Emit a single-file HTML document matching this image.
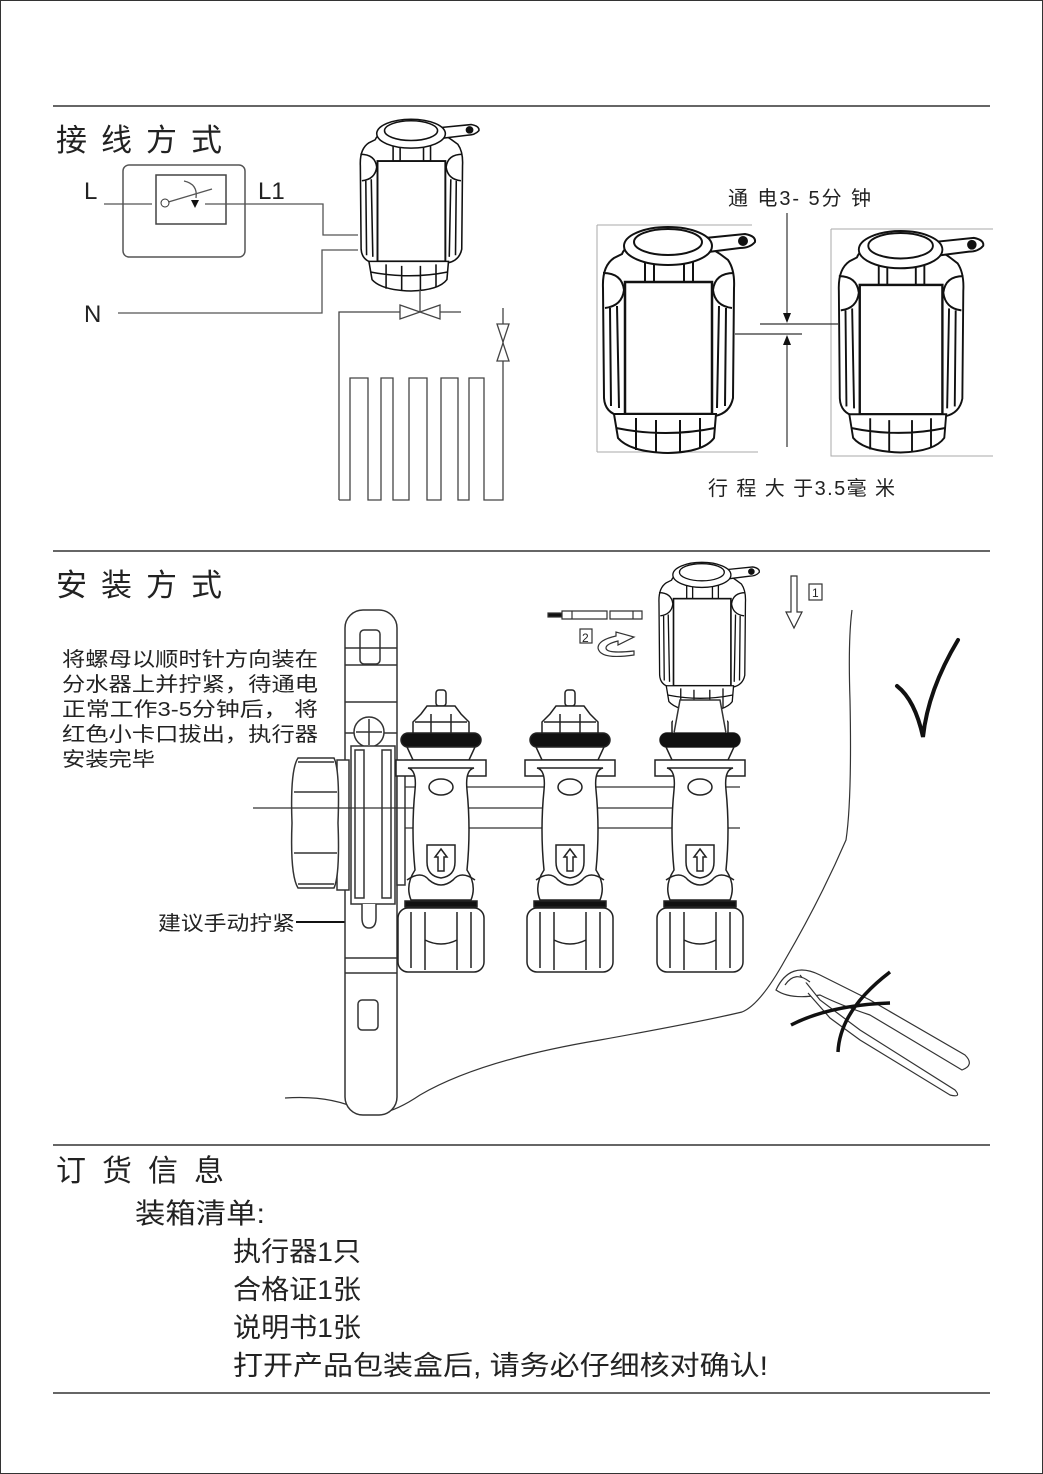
<!DOCTYPE html>
<html><head><meta charset="utf-8"><style>
html,body{margin:0;padding:0;background:#fff}
svg{display:block}
text{font-family:"Liberation Sans","Noto Sans CJK SC",sans-serif;fill:#222}
</style></head><body>
<svg width="1043" height="1474" viewBox="0 0 1043 1474" xmlns="http://www.w3.org/2000/svg">
<defs>
<g id="act" stroke="#111" fill="#fff" stroke-width="2">
  <path d="M3,60 Q2,38 14,30 L22,26 Q25,18 35,18 L100,18 Q112,20 120,26 L128,32 Q135,42 134,60 L133,170 Q130,185 115,188 L20,188 Q5,185 4,170 Z"/>
  <path d="M3,45 Q22,45 24,62 Q22,78 5,80" fill="none"/>
  <path d="M134,45 Q115,45 113,62 Q115,78 132,80" fill="none"/>
  <path d="M10,80 L11,178 M17,78 L19,180 M126,80 L125,178 M119,78 L117,180" fill="none"/>
  <rect x="45" y="28" width="9" height="26"/><rect x="84" y="28" width="9" height="26"/>
  <path d="M105,10 L145,6 Q156,8 155,14 Q150,20 140,20 L108,24 Z"/>
  <circle cx="143" cy="13" r="4" fill="#111"/>
  <ellipse cx="68" cy="18" rx="44" ry="19"/>
  <ellipse cx="68" cy="14" rx="34" ry="13"/>
  <rect x="25" y="54" width="87" height="132" stroke-width="2.5"/>
  <path d="M14,186 L116,186 L114,210 Q104,224 68,225 Q30,224 18,210 Z"/>
  <path d="M36,190 L36,222 M56,192 L56,225 M80,192 L80,225 M100,190 L100,220 M16,200 Q66,210 115,200" fill="none"/>
</g>
<g id="valve" stroke="#222" fill="#fff" stroke-width="1.5">
  <rect x="-5" y="690" width="10" height="16" rx="3"/>
  <path d="M-14,706 L14,706 L20,714 L28,722 L28,736 L-28,736 L-28,722 L-20,714 Z"/>
  <path d="M-10,714 L-10,736 M10,714 L10,736 M-26,722 L26,722" fill="none"/>
  <rect x="-40" y="733" width="80" height="14" rx="7" fill="#111"/>
  <path d="M-34,747 L34,747 L28,760 L-28,760 Z"/>
  <rect x="-45" y="760" width="90" height="16"/>
  <path d="M-33,768 Q-24,770 -26,790 Q-30,830 -26,870 Q-36,885 -30,900 L30,900 Q36,885 26,870 Q30,830 26,790 Q24,770 33,768 Z"/>
  <path d="M-34,880 Q-20,870 -12,880 Q0,890 12,880 Q20,870 34,880" fill="none"/>
  <ellipse cx="0" cy="787" rx="12" ry="8"/>
  <path d="M-14,845 L14,845 L14,862 Q14,876 0,878 Q-14,876 -14,862 Z"/>
  <path d="M0,849 L6,857 L3,857 L3,871 L-3,871 L-3,857 L-6,857 Z"/>
  <rect x="-36" y="901" width="72" height="6" fill="#111"/>
  <rect x="-43" y="908" width="86" height="64" rx="10"/>
  <path d="M-30,912 L-30,968 M-16,912 L-16,970 M16,912 L16,970 M30,912 L30,968 M-16,940 Q0,948 16,940" fill="none"/>
</g>
</defs>

<rect x="0.5" y="0.5" width="1042" height="1473" fill="none" stroke="#333" stroke-width="1"/>
<g stroke="#333" stroke-width="1.5">
<line x1="53" y1="106" x2="990" y2="106"/>
<line x1="53" y1="551" x2="990" y2="551"/>
<line x1="53" y1="1145" x2="990" y2="1145"/>
<line x1="53" y1="1393" x2="990" y2="1393"/>
</g>

<!-- Section 1 -->
<text x="56" y="151" font-size="31" letter-spacing="14">接线方式</text>
<text x="84" y="199" font-size="24">L</text>
<text x="258" y="199" font-size="24">L1</text>
<text x="84" y="322" font-size="24">N</text>
<rect x="123" y="165" width="122" height="92" rx="6" fill="none" stroke="#555" stroke-width="1.5"/>
<rect x="156" y="175" width="70" height="49" fill="none" stroke="#444" stroke-width="1.5"/>
<g stroke="#555" stroke-width="1.3" fill="none">
<path d="M104,204 H152 M205,204 H323 V235 H358"/>
<path d="M118,313 H322 V250 H358"/>
<line x1="165" y1="203" x2="212" y2="189"/>
<path d="M184,181 Q198,184 196,198"/>
</g>
<circle cx="165" cy="203" r="4" fill="#fff" stroke="#333"/>
<path d="M191,200 L199,200 L195,208 Z" fill="#111"/>
<use href="#act" transform="translate(358,120) scale(0.78,0.76)"/>
<g stroke="#444" stroke-width="1.3" fill="none">
<line x1="420" y1="290" x2="420" y2="312"/>
<path d="M339,500 V312 H400 M440,312 H461"/>
<path d="M400,305 L420,312 L400,319 Z M440,305 L420,312 L440,319 Z" fill="#fff"/>
<path d="M339,500 H350 V378 H368 V500 H381 V378 H393 V500 H409 V378 H427 V500 H441 V378 H458 V500 H469 V378 H484 V500 H503 V308"/>
<path d="M497,324 L509,324 L503,342 Z M497,361 L509,361 L503,343 Z" fill="#fff"/>
</g>

<text x="728" y="205" font-size="20" textLength="143" lengthAdjust="spacing">通 电3- 5分 钟</text>
<g stroke="#aaa" stroke-width="1" fill="none">
<path d="M597,225 H752 M597,225 V452 M597,452 H758"/>
<path d="M831,229 H993 M831,229 V456 H993"/>
</g>
<use href="#act" transform="translate(600,228)"/>
<use href="#act" transform="translate(836,232) scale(0.95,0.98)"/>
<g stroke="#333" stroke-width="1.2" fill="none">
<line x1="787" y1="213" x2="787" y2="318"/>
<line x1="787" y1="340" x2="787" y2="447"/>
<line x1="760" y1="324" x2="838" y2="324"/>
<line x1="735" y1="334" x2="802" y2="334"/>
</g>
<path d="M783,313 L791,313 L787,323 Z M783,345 L791,345 L787,335 Z" fill="#111"/>
<text x="708" y="495" font-size="20" textLength="187" lengthAdjust="spacing">行 程 大 于3.5毫 米</text>

<!-- Section 2 -->
<text x="56" y="596" font-size="31" letter-spacing="14">安装方式</text>
<g font-size="20">
<text x="62" y="666" textLength="256" lengthAdjust="spacingAndGlyphs">将螺母以顺时针方向装在</text>
<text x="62" y="691" textLength="256" lengthAdjust="spacingAndGlyphs">分水器上并拧紧，待通电</text>
<text x="62" y="716" textLength="256" lengthAdjust="spacingAndGlyphs">正常工作3-5分钟后， 将</text>
<text x="62" y="741" textLength="256" lengthAdjust="spacingAndGlyphs">红色小卡口拔出，执行器</text>
<text x="62" y="766" textLength="93" lengthAdjust="spacingAndGlyphs">安装完毕</text>
<text x="158" y="930" textLength="137" lengthAdjust="spacingAndGlyphs">建议手动拧紧</text>
</g>
<line x1="296" y1="922" x2="365" y2="922" stroke="#111" stroke-width="2"/>

<!-- hand outline -->
<path d="M285,1098 Q330,1095 360,1110 Q380,1122 420,1095 Q480,1060 600,1040 Q700,1022 742,1012 Q760,1005 785,960 Q820,900 846,840 Q852,800 850,700 Q848,640 852,610" fill="none" stroke="#333" stroke-width="1.2"/>

<!-- bracket -->
<g stroke="#333" stroke-width="1.5" fill="#fff">
<rect x="345" y="610" width="52" height="505" rx="18"/>
<rect x="360" y="630" width="20" height="34" rx="4"/>
<rect x="358" y="1000" width="20" height="30" rx="4"/>
<path d="M345,648 H397 M345,665 H397 M345,702 H397 M345,733 H397 M345,958 H397 M345,973 H397" fill="none"/>
<circle cx="369" cy="732" r="15"/>
<path d="M369,719 V745 M356,732 H382" fill="none"/>
<rect x="351" y="746" width="44" height="158"/>
<rect x="355" y="750" width="9" height="148"/><rect x="382" y="750" width="9" height="148"/>
<path d="M362,904 V918 Q362,928 369,928 Q376,928 376,918 V904" />
<rect x="337" y="760" width="12" height="130"/>
<rect x="397" y="765" width="8" height="120"/>
<path d="M298,758 L334,758 Q340,770 338,823 Q340,875 334,888 L298,888 Q290,875 292,823 Q290,770 298,758 Z"/>
<path d="M294,792 H337 M294,853 H337 M298,762 H334 M298,884 H334" fill="none"/>
</g>
<g stroke="#333" stroke-width="1.2">
<line x1="405" y1="787" x2="740" y2="787"/>
<line x1="253" y1="808" x2="727" y2="808"/>
<line x1="405" y1="828" x2="740" y2="828"/>
</g>
<use href="#valve" transform="translate(441,0)"/>
<use href="#valve" transform="translate(570,0)"/>
<use href="#valve" transform="translate(700,0)"/>
<rect x="673" y="705" width="54" height="30" fill="#fff"/>
<use href="#act" transform="translate(657,563) scale(0.66,0.66)"/>
<path d="M680,700 L720,700 L726,733 L674,733 Z" fill="#fff" stroke="#333" stroke-width="1.5"/>
<rect x="660" y="733" width="80" height="14" rx="7" fill="#111"/>

<!-- connector & arrows -->
<g stroke="#333" stroke-width="1.2" fill="#fff">
<rect x="548" y="613" width="14" height="4" fill="#111"/>
<path d="M562,611 H607 V619 H562 Z M572,611 V619 M610,611 H642 V619 H610 Z M633,611 V619"/>
<rect x="580" y="629" width="12" height="14"/>
<path d="M634,655 Q600,660 598,648 Q598,640 616,636 L616,632 L634,637 L618,645 L618,641 Q606,644 606,648 Q606,654 634,651 Z"/>
<path d="M791,576 H797 V612 H802 L794,628 L786,612 H791 Z"/>
<rect x="809" y="584" width="13" height="16"/>
</g>
<text x="582" y="642" font-size="12">2</text>
<text x="812" y="597" font-size="12">1</text>

<!-- check mark -->
<path d="M897,686 Q915,700 923,737 Q928,690 958,640" fill="none" stroke="#111" stroke-width="4" stroke-linecap="round"/>
<!-- pliers -->
<g stroke="#333" stroke-width="1.2" fill="#fff">
<path d="M776,990 Q790,960 820,975 L870,1000 L965,1055 Q975,1065 962,1070 L870,1015 Q840,1005 820,995 Q790,1000 776,990 Z"/>
<path d="M800,975 L820,1000 L860,1030 L955,1090 Q962,1098 950,1095 L860,1040 L830,1018 L808,993"/>
<path d="M785,985 Q795,970 810,982"/>
</g>
<path d="M791,1025 Q830,1005 890,1003 M838,1052 Q840,1010 890,972" fill="none" stroke="#111" stroke-width="3.5"/>

<!-- Section 3 -->
<text x="56" y="1181" font-size="30" letter-spacing="16">订货信息</text>
<text x="135" y="1223" font-size="28" textLength="130" lengthAdjust="spacingAndGlyphs">装箱清单:</text>
<g font-size="27">
<text x="233" y="1261" textLength="128" lengthAdjust="spacingAndGlyphs">执行器1只</text>
<text x="233" y="1299" textLength="128" lengthAdjust="spacingAndGlyphs">合格证1张</text>
<text x="233" y="1337" textLength="128" lengthAdjust="spacingAndGlyphs">说明书1张</text>
<text x="233" y="1375" textLength="535" lengthAdjust="spacingAndGlyphs">打开产品包装盒后, 请务必仔细核对确认!</text>
</g>
</svg>
</body></html>
